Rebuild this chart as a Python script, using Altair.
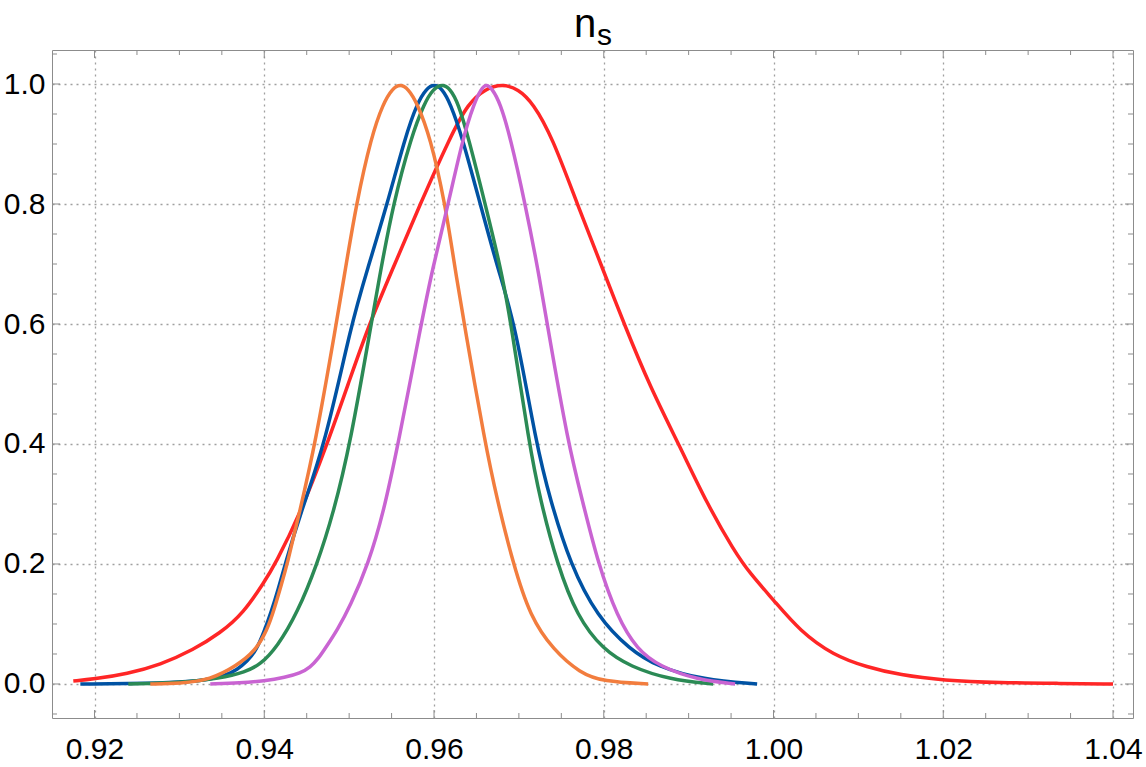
import altair as alt
import pandas as pd

# ---------------- data ----------------
red_x = [0.9175, 0.91986, 0.92386, 0.92775, 0.93164, 0.93482, 0.93753, 0.9400, 0.9413, 0.94424,
         0.94742, 0.95013, 0.95237, 0.95508, 0.95837, 0.96191, 0.96403, 0.96603, 0.96803, 0.96992,
         0.97168, 0.97392, 0.97687, 0.97993, 0.9824, 0.98546, 0.9890, 0.99218, 0.99536, 0.99724,
         1.0000, 1.00313, 1.00702, 1.01102, 1.01491, 1.01998, 1.02669, 1.03376, 1.0400]
red_y = [0.005, 0.008, 0.017, 0.032, 0.057, 0.085, 0.118, 0.17, 0.2, 0.284,
         0.4, 0.51, 0.6, 0.69, 0.8, 0.912, 0.968, 0.992, 1.0, 0.992,
         0.968, 0.912, 0.8, 0.69, 0.6, 0.495, 0.395, 0.3, 0.222, 0.184,
         0.14, 0.088, 0.048, 0.028, 0.015, 0.006, 0.002, 0.001, 0.0]

blue_x = [0.91833, 0.92657, 0.93128, 0.93364, 0.93541, 0.93682, 0.9380, 0.93906, 0.9400, 0.94082,
          0.94165, 0.94247, 0.94424, 0.94718, 0.95025, 0.95213, 0.95449, 0.95661, 0.95802, 0.95908,
          0.96002, 0.96097, 0.96191, 0.96332, 0.96544, 0.96756, 0.96956, 0.97204, 0.97369, 0.97604,
          0.97922, 0.98311, 0.98629, 0.99171, 0.99807]
blue_y = [0.0, 0.001, 0.004, 0.008, 0.014, 0.024, 0.038, 0.056, 0.088, 0.12,
          0.158, 0.2, 0.284, 0.4, 0.6, 0.69, 0.8, 0.912, 0.968, 0.992,
          1.0, 0.992, 0.968, 0.912, 0.8, 0.69, 0.6, 0.4, 0.307, 0.2,
          0.112, 0.057, 0.029, 0.007, 0.0]

green_x = [0.92398, 0.93011, 0.93482, 0.93776, 0.93953, 0.94153, 0.94389, 0.94624, 0.94813, 0.95013,
           0.9526, 0.95372, 0.95519, 0.95731, 0.95885, 0.95991, 0.96097, 0.96191, 0.96285, 0.96403,
           0.96603, 0.96792, 0.96909, 0.97121, 0.97251, 0.97451, 0.97687, 0.97993, 0.98311, 0.98782,
           0.99289]
green_y = [0.0, 0.002, 0.0095, 0.02, 0.032, 0.062, 0.118, 0.2, 0.284, 0.4,
           0.6, 0.69, 0.8, 0.912, 0.968, 0.992, 1.0, 0.992, 0.968, 0.912,
           0.8, 0.69, 0.6, 0.4, 0.307, 0.2, 0.112, 0.057, 0.029, 0.007,
           0.0]

orange_x = [0.92657, 0.93011, 0.93364, 0.9367, 0.93894, 0.94035, 0.94118, 0.9420, 0.94271, 0.94412,
            0.94601, 0.94848, 0.94954, 0.95084, 0.9526, 0.95402, 0.95508, 0.95602, 0.95696, 0.95802,
            0.95955, 0.96132, 0.9625, 0.96356, 0.96603, 0.96744, 0.96933, 0.97133, 0.97404, 0.97722,
            0.97993, 0.98523]
orange_y = [0.0, 0.001, 0.007, 0.03, 0.055, 0.09, 0.125, 0.165, 0.2, 0.284,
            0.4, 0.6, 0.69, 0.8, 0.912, 0.968, 0.992, 1.0, 0.992, 0.968,
            0.912, 0.8, 0.69, 0.6, 0.4, 0.307, 0.2, 0.112, 0.057, 0.018,
            0.004, 0.0]

purple_x = [0.93364, 0.93717, 0.9400, 0.94247, 0.94424, 0.94542, 0.94636, 0.9473, 0.9486, 0.95013,
            0.95225, 0.95402, 0.95578, 0.95849, 0.95979, 0.96167, 0.96344, 0.96473, 0.96556, 0.96615,
            0.96686, 0.9678, 0.96898, 0.97074, 0.97227, 0.97333, 0.97581, 0.97746, 0.97934, 0.98158,
            0.98393, 0.98664, 0.9910, 0.99548]
purple_y = [0.0, 0.002, 0.005, 0.011, 0.018, 0.028, 0.042, 0.062, 0.09, 0.13,
            0.2, 0.284, 0.4, 0.6, 0.69, 0.8, 0.912, 0.968, 0.992, 1.0,
            0.992, 0.968, 0.912, 0.8, 0.69, 0.6, 0.4, 0.307, 0.2, 0.112,
            0.057, 0.029, 0.007, 0.0]

# tick positions
x_major = [0.92, 0.94, 0.96, 0.98, 1.00, 1.02, 1.04]
x_minor = [0.925, 0.93, 0.935, 0.945, 0.95, 0.955, 0.965, 0.97, 0.975, 0.985, 0.99, 0.995,
           1.005, 1.01, 1.015, 1.025, 1.03, 1.035]
y_major = [0.0, 0.2, 0.4, 0.6, 0.8, 1.0]
y_minor = [-0.05, 0.05, 0.1, 0.15, 0.25, 0.3, 0.35, 0.45, 0.5, 0.55, 0.65, 0.7, 0.75,
           0.85, 0.9, 0.95, 1.05]

x_domain = [0.91499, 1.042356]
y_domain = [-0.05667, 1.05667]

title_main = "n"
title_sub = "s"

# ---------------- chart ----------------
W, H = 1081, 668
FONT = "Liberation Sans"
FRAME = "#8c8c8c"

xscale = alt.Scale(domain=x_domain, nice=False, zero=False)
yscale = alt.Scale(domain=y_domain, nice=False, zero=False)

xaxis = alt.Axis(values=x_major, format=".2f", ticks=False, domain=False, grid=True,
                 gridDash=[2, 4], gridColor="#a0a0a0", gridWidth=1.3,
                 labelFont=FONT, labelFontSize=30, labelColor="black",
                 labelPadding=16, labelFlush=False, labelOverlap=False, title=None)
yaxis = alt.Axis(values=y_major, format=".1f", ticks=False, domain=False, grid=True,
                 gridDash=[2, 4], gridColor="#a0a0a0", gridWidth=1.3,
                 labelFont=FONT, labelFontSize=30, labelColor="black",
                 labelPadding=7, labelFlush=False, labelOverlap=False, title=None)

series = [
    ("red", red_x, red_y, "#ff2626"),
    ("blue", blue_x, blue_y, "#0052a3"),
    ("green", green_x, green_y, "#2b8a55"),
    ("orange", orange_x, orange_y, "#f27d3e"),
    ("purple", purple_x, purple_y, "#c964d2"),
]

layers = []
for name, xs, ys, col in series:
    df = pd.DataFrame({"x": xs, "y": ys, "series": name})
    layers.append(
        alt.Chart(df).mark_line(color=col, strokeWidth=3.5, interpolate="basis", clip=True)
        .encode(x=alt.X("x:Q", scale=xscale, axis=xaxis),
                y=alt.Y("y:Q", scale=yscale, axis=yaxis))
    )

def xticks(vals, length):
    df = pd.DataFrame({"v": vals})
    bottom = alt.Chart(df).mark_rule(color=FRAME, strokeWidth=1).encode(
        x=alt.X("v:Q", scale=xscale, axis=xaxis), y=alt.value(H - length), y2=alt.value(H))
    top = alt.Chart(df).mark_rule(color=FRAME, strokeWidth=1).encode(
        x=alt.X("v:Q", scale=xscale, axis=xaxis), y=alt.value(0), y2=alt.value(length))
    return [bottom, top]

def yticks(vals, length):
    df = pd.DataFrame({"v": vals})
    left = alt.Chart(df).mark_rule(color=FRAME, strokeWidth=1).encode(
        y=alt.Y("v:Q", scale=yscale, axis=yaxis), x=alt.value(0), x2=alt.value(length))
    right = alt.Chart(df).mark_rule(color=FRAME, strokeWidth=1).encode(
        y=alt.Y("v:Q", scale=yscale, axis=yaxis), x=alt.value(W - length), x2=alt.value(W))
    return [left, right]

tick_layers = xticks(x_major, 8) + xticks(x_minor, 5) + yticks(y_major, 8) + yticks(y_minor, 5)

t_main = alt.Chart(pd.DataFrame({"t": [title_main]})).mark_text(
    font=FONT, fontSize=40, align="left", baseline="alphabetic", color="black"
).encode(text="t:N", x=alt.value(522), y=alt.value(-13))
t_sub = alt.Chart(pd.DataFrame({"t": [title_sub]})).mark_text(
    font=FONT, fontSize=30, align="left", baseline="alphabetic", color="black"
).encode(text="t:N", x=alt.value(545), y=alt.value(-5))

chart = alt.layer(*tick_layers, *layers, t_main, t_sub).properties(
    width=W, height=H,
    autosize=alt.AutoSizeParams(type="none"),
    padding={"left": 52, "top": 50, "right": 13, "bottom": 49},
    background="white",
).configure_view(stroke=FRAME, strokeWidth=1)

chart.save("out.html", embed_options={"renderer": "svg", "actions": False})
